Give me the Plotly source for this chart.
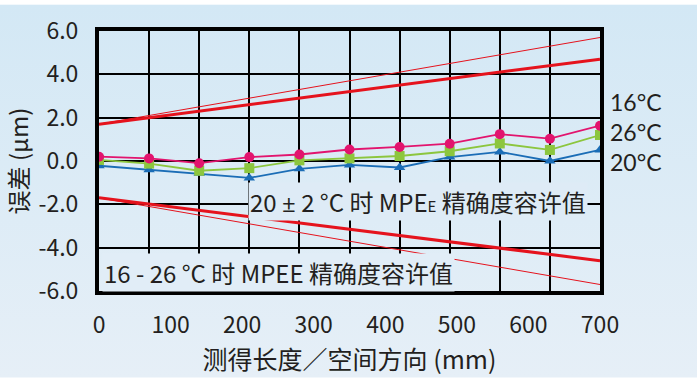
import base64
import plotly.graph_objects as go

# ---- data ----
lengths = [0, 70, 140, 210, 280, 350, 420, 490, 560, 630, 700]
err_16c = [0.2, 0.12, -0.1, 0.18, 0.3, 0.53, 0.65, 0.8, 1.24, 1.03, 1.63]
err_26c = [0.05, -0.12, -0.45, -0.33, 0.03, 0.12, 0.23, 0.45, 0.81, 0.51, 1.2]
err_20c = [-0.22, -0.4, -0.57, -0.78, -0.36, -0.18, -0.3, 0.18, 0.42, 0.0, 0.51]
mpe_ends = [0, 700]
mpe_20_upper = [1.7, 4.7]
mpe_20_lower = [-1.7, -4.6]
mpe_16_26_upper = [1.7, 5.7]
mpe_16_26_lower = [-1.7, -5.7]
x_tick_vals = [0, 100, 200, 300, 400, 500, 600, 700]
y_tick_vals = [6, 4, 2, 0, -2, -4, -6]
y_tick_text = ["6.0", "4.0", "2.0", "0.0", "-2.0", "-4.0", "-6.0"]
series_labels = ["16°C", "26°C", "20°C"]
labels_center_y = 1.33

FONT = "Noto Sans CJK SC"
TXT = "#231F20"
RED = "#E5131D"

fig = go.Figure()

# MPE limit lines
for ys, w in [(mpe_16_26_upper, 1), (mpe_16_26_lower, 1), (mpe_20_upper, 3), (mpe_20_lower, 3)]:
    fig.add_trace(go.Scatter(x=mpe_ends, y=ys, mode="lines",
                             line=dict(color=RED, width=w), hoverinfo="skip"))

fig.add_trace(go.Scatter(x=lengths, y=err_20c, mode="lines+markers",
                         line=dict(color="#1B6DB6", width=1.8),
                         marker=dict(symbol="triangle-up", size=10, color="#1B6DB6")))
fig.add_trace(go.Scatter(x=lengths, y=err_26c, mode="lines+markers",
                         line=dict(color="#8CC63E", width=1.8),
                         marker=dict(symbol="square", size=10, color="#8CC63E")))
fig.add_trace(go.Scatter(x=lengths, y=err_16c, mode="lines+markers",
                         line=dict(color="#E2146E", width=1.8),
                         marker=dict(symbol="circle", size=10, color="#E2146E")))

# background gradient (style only)
svg = ('<svg xmlns="http://www.w3.org/2000/svg" width="10" height="100" preserveAspectRatio="none">'
       '<defs><linearGradient id="g" x1="0" y1="0" x2="0" y2="1">'
       '<stop offset="0" stop-color="#D3E8F5"/><stop offset="1" stop-color="#E6EFF7"/>'
       '</linearGradient></defs><rect width="10" height="100" fill="url(#g)"/></svg>')
src = "data:image/svg+xml;base64," + base64.b64encode(svg.encode()).decode()

W, H = 697, 379
ml, mr, mt, mb = 99, 97, 27, 88
pw, ph = W - ml - mr, H - mt - mb
fig.add_layout_image(dict(source=src, xref="paper", yref="paper",
                          x=-ml / pw, y=1 + mt / ph, sizex=W / pw, sizey=H / ph,
                          sizing="stretch", xanchor="left", yanchor="top", layer="below"))

fig.add_annotation(text="<br>".join(series_labels), x=1 + 8 / pw, y=labels_center_y,
                   xref="paper", yref="y", xanchor="left", yanchor="middle",
                   align="left", showarrow=False,
                   font=dict(family="Lato", size=23, color=TXT))

fig.add_annotation(text="20 <span style='font-family:Open Sans'>±</span> 2 °C 时 MPE"
                        "<span style='font-size:15px'>E</span> 精确度容许值",
                   x=1 - 12 / pw, y=-1.85, xref="paper", yref="y",
                   xanchor="right", yanchor="middle", showarrow=False,
                   bgcolor="#DEEBF6", borderpad=1,
                   font=dict(family=FONT, size=24, color=TXT))
fig.add_annotation(text="16 - 26 °C 时 MPEE 精确度容许值",
                   x=3 / pw, y=-5.15, xref="paper", yref="y",
                   xanchor="left", yanchor="middle", showarrow=False,
                   bgcolor="#E1EDF7", borderpad=1,
                   font=dict(family=FONT, size=24, color=TXT))

fig.update_layout(
    width=W, height=H,
    margin=dict(l=ml, r=mr, t=mt, b=mb),
    paper_bgcolor="rgba(0,0,0,0)",
    plot_bgcolor="rgba(0,0,0,0)",
    showlegend=False,
    font=dict(family=FONT, color=TXT, size=23),
    xaxis=dict(range=[0, 700], tickvals=x_tick_vals, showgrid=False, zeroline=False,
               showline=True, linecolor="black", linewidth=4, mirror=True,
               ticks="", ticklabelstandoff=10,
               tickfont=dict(family=FONT, size=23, color=TXT),
               minor=dict(tick0=0, dtick=70, showgrid=True, gridcolor="black",
                          gridwidth=2.2, ticks=""),
               title=dict(text="测得长度／空间方向 (mm)", standoff=4,
                          font=dict(family=FONT, size=25, color=TXT))),
    yaxis=dict(range=[-6, 6], tickvals=y_tick_vals, ticktext=y_tick_text,
               showgrid=True, gridcolor="black", gridwidth=2.2, zeroline=False,
               showline=True, linecolor="black", linewidth=4, mirror=True,
               ticks="", ticklabelstandoff=12,
               tickfont=dict(family=FONT, size=23, color=TXT),
               title=dict(text="误差 (μm)", standoff=6,
                          font=dict(family=FONT, size=24, color=TXT))),
)

fig.write_html("out.html", config={"displayModeBar": False},
               post_script="document.body.style.margin='0';document.body.style.overflow='hidden';")
